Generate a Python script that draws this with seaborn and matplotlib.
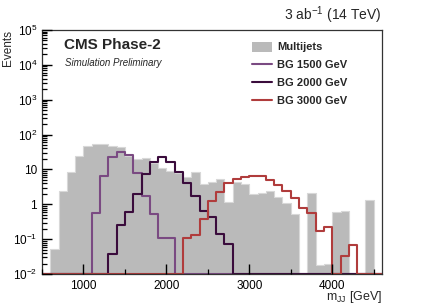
import numpy as np
import pandas as pd
import matplotlib
matplotlib.use('Agg')
import matplotlib.pyplot as plt
from matplotlib.ticker import FuncFormatter, MultipleLocator, LogLocator, NullFormatter
from matplotlib.patches import Patch
from matplotlib.lines import Line2D
import seaborn as sns

# 100 GeV bins from 500 to 4600 GeV
bin_edges = list(range(500, 4700, 100))

multijets = [0, 0.052, 2.4, 8.2, 24, 47, 53, 53, 47, 43,
             25, 19.7, 20.6, 15, 10.7, 9.1, 7.7, 5.9, 8.2, 3.8,
             4.4, 5.2, 1.18, 4.4, 3.7, 1.96, 2.05, 2.4, 1.64, 1.06,
             0.52, 0, 2.05, 0.018, 0.019, 0.61, 0.63, 0, 0, 1.32, 0]
bg1500 = [0, 0, 0, 0, 0, 0, 0.55, 6.4, 23, 31,
          26, 7.7, 1.75, 0.52, 0.11, 0.11, 0, 0, 0, 0,
          0, 0, 0, 0, 0, 0, 0, 0, 0, 0,
          0, 0, 0, 0, 0, 0, 0, 0, 0, 0, 0]
bg2000 = [0, 0, 0, 0, 0, 0, 0, 0, 0.037, 0.25,
          0.61, 1.96, 7.2, 16, 22, 16, 8.2, 4.2, 1.75, 0.65,
          0.42, 0.14, 0.071, 0, 0, 0, 0, 0, 0, 0,
          0, 0, 0, 0, 0, 0, 0, 0, 0, 0, 0]
bg3000 = [0, 0, 0, 0, 0, 0, 0, 0, 0, 0,
          0, 0, 0, 0, 0, 0, 0, 0.105, 0.13, 0.37,
          1.26, 2.2, 4.1, 5.2, 6.1, 6.5, 6.5, 4.9, 3.5, 2.4,
          1.54, 0.76, 0.55, 0.17, 0.23, 0, 0.033, 0.068, 0, 0, 0]

signals = {'BG 1500 GeV': (bg1500, '#7a4a82'),
           'BG 2000 GeV': (bg2000, '#3a0c3c'),
           'BG 3000 GeV': (bg3000, '#b03c3c')}
gray = '#bababa'
ymin, ymax = 1e-2, 1e5

plt.style.use('default')
sns.set_style('white')
plt.rcParams['font.family'] = ['Liberation Sans', 'DejaVu Sans']
plt.rcParams['mathtext.fontset'] = 'custom'
plt.rcParams['mathtext.rm'] = 'Liberation Sans'
plt.rcParams['mathtext.it'] = 'Liberation Sans:italic'
plt.rcParams['mathtext.bf'] = 'Liberation Sans:bold'
plt.rcParams.update({
    'axes.axisbelow': False,
    'xtick.bottom': True, 'ytick.left': True,
    'xtick.top': False, 'ytick.right': False,
    'xtick.direction': 'in', 'ytick.direction': 'in',
    'xtick.color': 'black', 'ytick.color': 'black',
    'xtick.major.size': 7, 'ytick.major.size': 7,
    'xtick.minor.size': 3.5, 'ytick.minor.size': 3.5,
    'xtick.major.width': 1.0, 'ytick.major.width': 1.0,
    'xtick.minor.width': 0.9, 'ytick.minor.width': 0.9,
    'xtick.labelsize': 8.5, 'ytick.labelsize': 8.5,
    'xtick.major.pad': 4, 'ytick.major.pad': 3.5,
    'xtick.minor.pad': 4, 'ytick.minor.pad': 3.5,
})

centers = np.array(bin_edges[:-1]) + 50

fig = plt.figure(figsize=(4.25, 3.05), dpi=100)
ax = fig.add_axes([42 / 425, 31 / 305, 340 / 425, 244 / 305])
ax.set_yscale('log')

bkg = pd.DataFrame({'mjj': centers, 'w': multijets})
sns.histplot(data=bkg, x='mjj', weights='w', bins=bin_edges, element='step',
             fill=True, color=gray, alpha=1, linewidth=0.8,
             edgecolor='#d8d8d8', ax=ax)

for label, (vals, col) in signals.items():
    # empty bins are drawn on the lower edge of the frame, like ROOT does
    sig = pd.DataFrame({'mjj': centers, 'w': np.clip(vals, ymin, None)})
    sns.histplot(data=sig, x='mjj', weights='w', bins=bin_edges, element='step',
                 fill=False, color=col, linewidth=1.5, ax=ax)

ax.set_xlim(500, 4600)
ax.set_ylim(ymin, ymax)
ax.xaxis.set_major_locator(MultipleLocator(1000))
ax.xaxis.set_minor_locator(MultipleLocator(500))
ax.yaxis.set_major_locator(LogLocator(base=10, numticks=20))
ax.yaxis.set_minor_locator(LogLocator(base=10, subs=np.arange(2, 10), numticks=20))
ax.yaxis.set_minor_formatter(NullFormatter())


def log_label(v, pos):
    e = int(round(np.log10(v)))
    if e == 0:
        return '1'
    if e == 1:
        return '10'
    return r'$\mathdefault{10^{%d}}$' % e


ax.yaxis.set_major_formatter(FuncFormatter(log_label))
ax.tick_params(which='both', direction='in', left=True, bottom=True,
               top=False, right=False, color='black', zorder=10)
ax.tick_params(which='major', length=7, width=1.0)
ax.tick_params(which='minor', length=3.5, width=0.9)

for s in ax.spines.values():
    s.set_linewidth(0.9)
    s.set_color('#333333')
    s.set_visible(True)

ax.set_xlabel(r'm$_{\mathregular{JJ}}$ [GeV]', loc='right', fontsize=9)
ax.xaxis.set_label_coords(1.0, -0.062)
ax.set_ylabel('Events', loc='top', fontsize=8.5)
ax.yaxis.set_label_coords(-0.082, 1.0)

fig.text(64 / 425, 1 - 45 / 305, 'CMS Phase-2', fontsize=11, fontweight='bold',
         ha='left', va='center')
fig.text(65 / 425, 1 - 63 / 305, 'Simulation Preliminary', fontsize=7,
         style='italic', ha='left', va='center')
fig.text(382 / 425, 1 - 15 / 305, r'3 ab$^{\mathregular{-1}}$ (14 TeV)', fontsize=10,
         ha='right', va='center')

handles = [Patch(facecolor=gray, edgecolor='none')]
labels = ['Multijets']
for label, (vals, col) in signals.items():
    handles.append(Line2D([], [], color=col, linewidth=1.5))
    labels.append(label)
ax.legend(handles, labels, loc='upper left', bbox_to_anchor=(0.6, 0.975),
          frameon=False, borderpad=0, handlelength=1.8, handleheight=1.0,
          handletextpad=0.5, labelspacing=0.65,
          prop={'weight': 'bold', 'size': 8})

fig.savefig('out.png', dpi=100)
